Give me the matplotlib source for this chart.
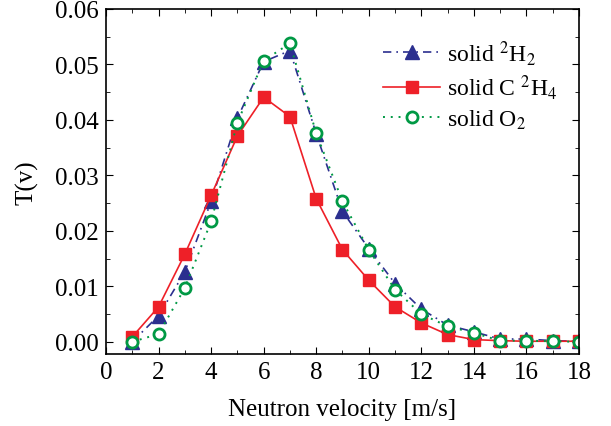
import numpy as np
import matplotlib.pyplot as plt
from matplotlib.ticker import MultipleLocator

# Data
velocity = np.arange(1, 19)
t_h2 = [0.0000, 0.0047, 0.0126, 0.0253, 0.0403, 0.0505, 0.0525, 0.0375, 0.0235, 0.0168,
        0.0105, 0.0059, 0.0030, 0.0018, 0.0005, 0.0005, 0.0002, 0.0001]
t_c2h4 = [0.0009, 0.0063, 0.0158, 0.0264, 0.0371, 0.0441, 0.0406, 0.0258, 0.0166, 0.0111,
          0.0063, 0.0034, 0.0013, 0.0004, 0.0002, 0.0001, 0.0001, 0.0001]
t_o2 = [0.0000, 0.0014, 0.0097, 0.0217, 0.0395, 0.0507, 0.0538, 0.0376, 0.0253, 0.0166,
        0.0094, 0.0050, 0.0028, 0.0016, 0.0002, 0.0002, 0.0001, 0.0000]

labels = [r"solid $^2$H$_2$", r"solid C $^2$H$_4$", r"solid O$_2$"]

plt.rcParams['font.family'] = ['Liberation Serif', 'DejaVu Serif']
plt.rcParams['mathtext.fontset'] = 'stix'
plt.rcParams['font.size'] = 18

fig = plt.figure(figsize=(6.11, 4.27), dpi=100)
ax = fig.add_axes([106 / 611, 72 / 427, 473 / 611, 345 / 427])

ax.plot(velocity, t_h2, color='#2b2f8f', linestyle=(0, (5, 3, 1, 3)), lw=1.2,
        marker='^', markersize=10, label=labels[0])
ax.plot(velocity, t_c2h4, color='#ee2028', linestyle='-', lw=1.2,
        marker='s', markersize=9, label=labels[1])
ax.plot(velocity, t_o2, color='#009944', linestyle=(0, (1, 3)), lw=1.4,
        marker='o', markersize=8, markerfacecolor='white', markeredgewidth=2,
        label=labels[2])

ax.set_xlim(0, 18)
ax.set_ylim(-0.0022, 0.06)
ax.xaxis.set_major_locator(MultipleLocator(2))
ax.xaxis.set_minor_locator(MultipleLocator(1))
ax.yaxis.set_major_locator(MultipleLocator(0.01))
ax.yaxis.set_minor_locator(MultipleLocator(0.005))
ax.yaxis.set_major_formatter(plt.FormatStrFormatter('%.2f'))
ax.tick_params(which='both', direction='in', top=True, right=True)
ax.tick_params(which='major', length=5, pad=5)
ax.tick_params(which='minor', length=3)
for s in ax.spines.values():
    s.set_linewidth(1.2)

ax.set_xlabel("Neutron velocity [m/s]", labelpad=11)
ax.set_ylabel("T(v)", labelpad=12)

ax.legend(loc='upper right', frameon=False, handlelength=2.4, fontsize=17,
          handletextpad=0.3, borderaxespad=0.3, labelspacing=0.25,
          bbox_to_anchor=(0.99, 0.965))

fig.savefig("out.png", dpi=100)
